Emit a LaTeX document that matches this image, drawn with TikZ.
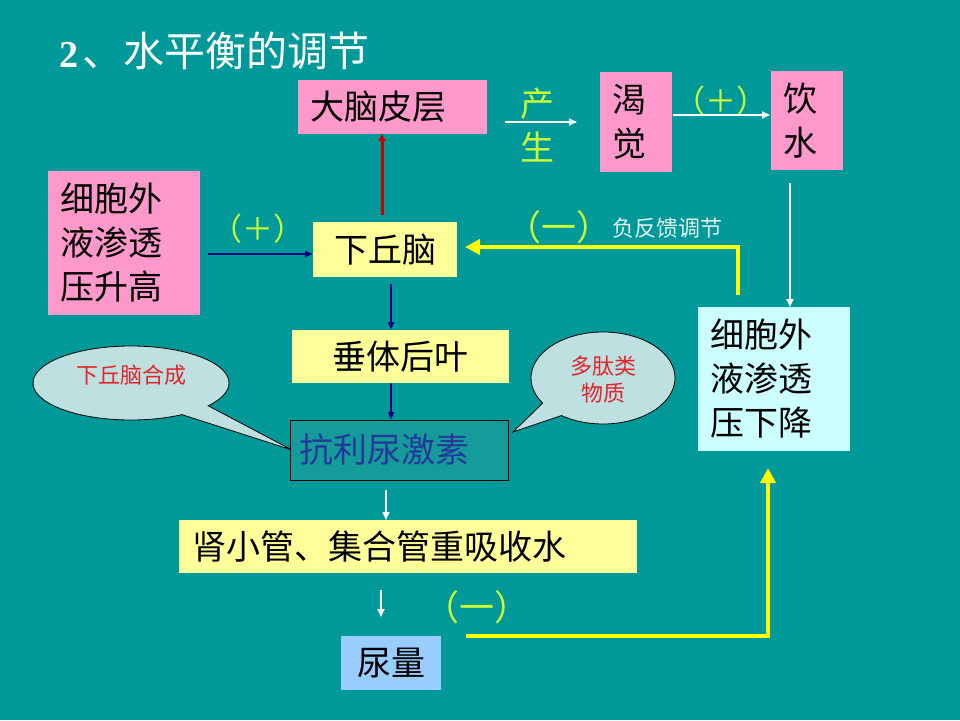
\documentclass[tikz,border=0pt]{standalone}
\usepackage{fontspec}
\setmainfont{Liberation Serif}
\newfontfamily\cjk{Noto Sans CJK SC}
\usetikzlibrary{arrows.meta,calc}
\definecolor{bg}{HTML}{009999}
\definecolor{pinkbox}{HTML}{FF99CC}
\definecolor{yelbox}{HTML}{FFFF99}
\definecolor{cyanbox}{HTML}{CCFFFF}
\definecolor{bluebox}{HTML}{99CCFF}
\definecolor{hormbox}{HTML}{169B9B}
\definecolor{hormtext}{HTML}{22389A}
\definecolor{limetext}{HTML}{CCFF33}
\definecolor{navyline}{HTML}{000080}
\definecolor{redline}{HTML}{CC0000}
\definecolor{calloutfill}{HTML}{BFE0E0}
\definecolor{callouttext}{HTML}{E3242B}
\definecolor{notetext}{HTML}{E6F2F2}
\definecolor{yelline}{HTML}{FFFF00}
\begin{document}
\begin{tikzpicture}[x=1pt,y=-1pt,
  box/.style={anchor=north west, inner xsep=12pt, inner ysep=0pt, outer sep=0pt,
    font=\cjk\fontsize{34}{44}\selectfont, text=black},
  lbl/.style={inner sep=0pt, font=\cjk\fontsize{31}{31}\selectfont, text=limetext},
  whitearrow/.style={draw=white, line width=1.8pt, -{Triangle[length=8pt,width=7pt]}},
  bluearrow/.style={draw=navyline, line width=2pt, -{Triangle[length=8pt,width=6pt]}},
  redarrow/.style={draw=redline, line width=3pt, -{Triangle[length=7pt,width=7pt]}},
  yelarrow/.style={draw=yelline, line width=4.5pt, -{Triangle[length=15pt,width=15pt]}},
  callout/.style={draw=black, line width=0.8pt, fill=calloutfill},
  callouttxt/.style={inner sep=0pt, font=\cjk\fontsize{22}{27}\selectfont, text=callouttext, align=center}
]
\useasboundingbox (0,0) rectangle (960,720);
\fill[bg] (0,0) rectangle (960,720);

% title
\node[anchor=base west, inner sep=0pt, text=white, font=\fontsize{38}{38}\selectfont\bfseries] (t2) at (59,67) {2};
\node[anchor=base west, inner sep=0pt, text=white, font=\cjk\fontsize{41}{41}\selectfont] (tt) at (82,66) {、水平衡的调节};

% boxes
\node[box, fill=pinkbox, text width=165pt, minimum height=54pt, align=left] (dn) at (298,80) {大脑皮层};
\node[box, fill=pinkbox, text width=48pt, minimum height=100pt, align=left] (kk) at (600,72) {渴\\觉};
\node[box, fill=pinkbox, text width=48pt, minimum height=99pt, align=left] (yk) at (771,71) {饮\\水};
\node[box, fill=pinkbox, text width=128pt, minimum height=144pt, align=left] (xl) at (48,171) {细胞外\\液渗透\\压升高};
\node[box, fill=yelbox, text width=120pt, minimum height=55pt, align=center] (xq) at (313,222) {下丘脑};
\node[box, fill=cyanbox, text width=128pt, minimum height=144pt, align=left] (xd) at (698,307) {细胞外\\液渗透\\压下降};
\node[box, fill=yelbox, text width=193pt, minimum height=53pt, align=center] (cq) at (292,330) {垂体后叶};
\node[box, fill=yelbox, inner xsep=13pt, text width=432pt, minimum height=53pt, align=left] (sx) at (179,520) {肾小管、集合管重吸收水};
\node[box, fill=bluebox, text width=76pt, minimum height=54pt, align=center] (nl) at (341,636) {尿量};

% callouts
\coordinate (cL) at (131,383);
\coordinate (cR) at (603,378);
\coordinate (tipL) at (292,450);
\coordinate (tipR) at (513,432);
\filldraw[callout] ($(cL)+(58.7:98 and 37)$) arc[start angle=58.7, end angle=398, x radius=98, y radius=37] -- (tipL) -- cycle;
\filldraw[callout] ($(cR)+(146.9:72 and 46)$) arc[start angle=146.9, end angle=485.3, x radius=72, y radius=46] -- (tipR) -- cycle;
\node[callouttxt] (tL) at (131,375) {下丘脑合成};
\node[callouttxt] (tR) at (603,380) {多肽类\\物质};

\node[box, draw=black, line width=1pt, fill=hormbox, text=hormtext, inner xsep=9pt, text width=200pt, minimum height=60pt, align=left] (kl) at (290,420) {抗利尿激素};

% labels
\node[lbl, align=center, font=\cjk\fontsize{34}{44}\selectfont] (cs) at (537,125) {产\\生};
\node[lbl] (p1) at (721,101) {（＋）};
\node[lbl] (p2) at (258,229) {（＋）};
\node[lbl, font=\cjk\fontsize{35}{35}\selectfont] (m1) at (559,227) {（一）};
\node[anchor=west, inner sep=0pt, text=notetext, font=\cjk\fontsize{22}{22}\selectfont] (fb) at (612,228) {负反馈调节};
\node[lbl, font=\cjk\fontsize{35}{35}\selectfont] (m2) at (477,607) {（一）};

% connectors
\draw[redarrow] ($(xq.north)+(-3,-7)$) -- ($(xq.north |- dn.south)+(-3,0)$);
\draw[bluearrow] ($(xl.east |- xq.west)+(8,4.5)$) -- ($(xq.west)+(0,4.5)$);
\draw[bluearrow] ($(xq.south)+(6,7)$) -- ($(xq.south |- cq.north)+(6,0)$);
\draw[bluearrow] ($(cq.south)+(-9.5,0)$) -- ($(cq.south |- kl.north)+(-9.5,0)$);
\draw[whitearrow] ($(kl.south)+(-13,10)$) -- ($(kl.south |- sx.north)+(-13,0)$);
\draw[whitearrow] ($(nl.north |- sx.south)+(-10,17)$) -- ($(nl.north)+(-10,-19)$);
\draw[whitearrow] ($(yk.south)+(-17,13)$) -- ($(yk.south |- xd.north)+(-17,0)$);
\draw[whitearrow] ($(kk.west -| dn.east)+(18,0)$) -- ($(kk.west)+(-23,0)$);
\draw[whitearrow] ($(kk.east)+(1,-7)$) -- ($(kk.east -| yk.west)+(-1,-7)$);
\draw[yelarrow] ($(xd.north)+(-36,-12)$) |- ($(xq.east)+(8,-2.5)$);
\draw[yelarrow] ($(nl.north east)+(25,0)$) -| ($(xd.south)+(-6,17)$);
\end{tikzpicture}
\end{document}
